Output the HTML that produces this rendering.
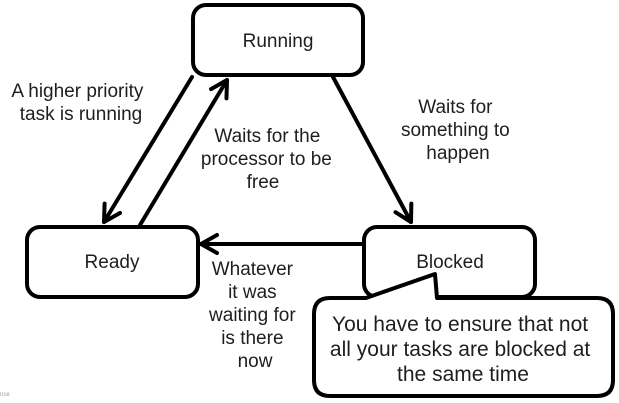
<!DOCTYPE html>
<html>
<head>
<meta charset="utf-8">
<style>
  html,body{margin:0;padding:0;background:#fff;}
  body{width:619px;height:403px;overflow:hidden;}
  svg{display:block;}
  text{font-family:"Liberation Sans",Arial,sans-serif;fill:#1e1e1e;}
</style>
</head>
<body>
<svg width="619" height="403" viewBox="0 0 619 403" xmlns="http://www.w3.org/2000/svg">
  <defs>
    <marker id="ah" markerUnits="userSpaceOnUse" markerWidth="40" markerHeight="40" refX="0" refY="0" viewBox="-20 -20 40 40" orient="auto">
      <path d="M -16,-9 L 0,0 L -16,9" fill="none" stroke="#000" stroke-width="4" stroke-linecap="round" stroke-linejoin="round"/>
    </marker>
  </defs>
  <rect x="0" y="0" width="619" height="403" fill="#fff"/>

  <!-- Nodes -->
  <rect x="193" y="5" width="170" height="70" rx="13" ry="13" fill="#fff" stroke="#000" stroke-width="4"/>
  <rect x="27" y="227" width="171" height="70" rx="13" ry="13" fill="#fff" stroke="#000" stroke-width="4"/>
  <rect x="364" y="227" width="171" height="70" rx="13" ry="13" fill="#fff" stroke="#000" stroke-width="4"/>

  <!-- Arrows -->
  <line x1="192" y1="77" x2="104" y2="222" stroke="#000" stroke-width="4" stroke-linecap="round" marker-end="url(#ah)"/>
  <line x1="140" y1="225" x2="227" y2="80" stroke="#000" stroke-width="4" stroke-linecap="round" marker-end="url(#ah)"/>
  <line x1="333" y1="77" x2="411" y2="222" stroke="#000" stroke-width="4" stroke-linecap="round" marker-end="url(#ah)"/>
  <line x1="364" y1="244" x2="201" y2="244" stroke="#000" stroke-width="4" stroke-linecap="round" marker-end="url(#ah)"/>

  <!-- Node labels -->
  <text x="278" y="47" font-size="19" text-anchor="middle">Running</text>
  <text x="112" y="268" font-size="19" text-anchor="middle">Ready</text>
  <text x="450" y="268" font-size="19" text-anchor="middle">Blocked</text>

  <!-- Edge labels -->
  <text font-size="19" text-anchor="middle">
    <tspan x="80" y="97">A higher priority</tspan>
    <tspan x="81" y="120">task is running</tspan>
  </text>
  <text font-size="19" text-anchor="middle">
    <tspan x="270" y="142">Waits for the</tspan>
    <tspan x="269" y="165">processor to be</tspan>
    <tspan x="263" y="188">free</tspan>
  </text>
  <text font-size="19" text-anchor="middle">
    <tspan x="458" y="113">Waits for</tspan>
    <tspan x="458" y="136">something to</tspan>
    <tspan x="458" y="159">happen</tspan>
  </text>
  <text font-size="19" text-anchor="middle">
    <tspan x="255" y="275">Whatever</tspan>
    <tspan x="255" y="298">it was</tspan>
    <tspan x="255" y="321">waiting for</tspan>
    <tspan x="255" y="344">is there</tspan>
    <tspan x="255" y="367">now</tspan>
  </text>

  <!-- Callout -->
  <path d="M 330,298 L 366,298 L 435,274 L 437,298 L 597,298 Q 613,298 613,314 L 613,380 Q 613,396 597,396 L 330,396 Q 314,396 314,380 L 314,314 Q 314,298 330,298 Z"
        fill="#fff" stroke="#000" stroke-width="4" stroke-linejoin="round"/>
  <text font-size="21" text-anchor="middle">
    <tspan x="463" y="331">You have to ensure that not</tspan>
    <tspan x="463" y="356">all your tasks are blocked at</tspan>
    <tspan x="463" y="381">the same time</tspan>
  </text>

  <!-- tiny residual text -->
  <text x="0" y="396" font-size="6" fill="#888" style="fill:#999">nce</text>
</svg>
</body>
</html>
